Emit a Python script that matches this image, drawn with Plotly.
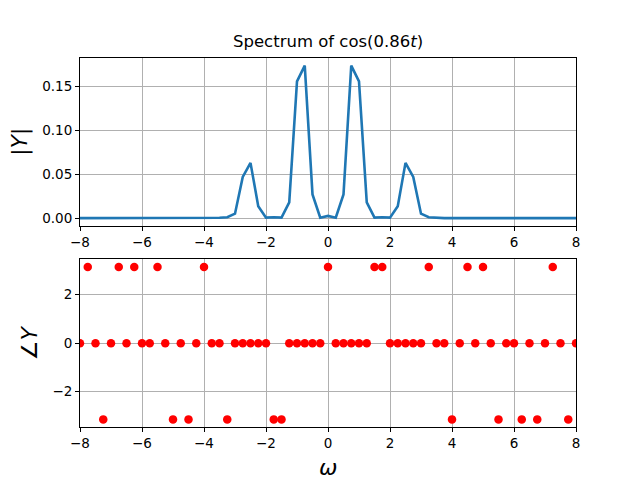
import plotly.graph_objects as go

P = 3.14159

omega = [-8.0, -7.75, -7.5, -7.25, -7.0, -6.75, -6.5, -6.25, -6.0, -5.75, -5.5, -5.25,
         -5.0, -4.75, -4.5, -4.25, -4.0, -3.75, -3.5, -3.25, -3.0, -2.75, -2.5, -2.25,
         -2.0, -1.75, -1.5, -1.25, -1.0, -0.75, -0.5, -0.25, 0.0, 0.25, 0.5, 0.75,
         1.0, 1.25, 1.5, 1.75, 2.0, 2.25, 2.5, 2.75, 3.0, 3.25, 3.5, 3.75,
         4.0, 4.25, 4.5, 4.75, 5.0, 5.25, 5.5, 5.75, 6.0, 6.25, 6.5, 6.75,
         7.0, 7.25, 7.5, 7.75, 8.0]

magnitude = [0, 0, 0, 0, 0, 0, 0, 0, 0, 0, 0, 0,
             0, 0, 0, 0, 0, 0, 0.0003, 0.001, 0.005, 0.047, 0.063, 0.0135,
             0.0005, 0.001, 0.0005, 0.018, 0.156, 0.174, 0.027, 0.0005, 0.0025, 0.0005, 0.027, 0.174,
             0.156, 0.018, 0.0005, 0.001, 0.0005, 0.0135, 0.063, 0.047, 0.005, 0.001, 0.0003, 0,
             0, 0, 0, 0, 0, 0, 0, 0, 0, 0, 0, 0,
             0, 0, 0, 0, 0]

phase = [0, P, 0, -P, 0, P, 0, P, 0, 0, P, 0,
         -P, 0, -P, 0, P, 0, 0, -P, 0, 0, 0, 0,
         0, -P, -P, 0, 0, 0, 0, 0, P, 0, 0, 0,
         0, 0, P, P, 0, 0, 0, 0, 0, P, 0, 0,
         -P, 0, P, 0, P, 0, -P, 0, 0, -P, 0, -P,
         0, P, 0, -P, 0]

x_ticks = [-8, -6, -4, -2, 0, 2, 4, 6, 8]
mag_ticks = [0.0, 0.05, 0.10, 0.15]
phase_ticks = [-2, 0, 2]

title_text = "Spectrum of cos(0.86<i>t</i>)"

FONT = "DejaVu Sans"

fig = go.Figure()
fig.add_trace(go.Scatter(x=omega, y=magnitude, mode="lines",
                         line=dict(color="#1f77b4", width=2.6),
                         xaxis="x", yaxis="y", showlegend=False))
fig.add_trace(go.Scatter(x=omega, y=phase, mode="markers",
                         marker=dict(color="red", size=8.5, line=dict(width=0)),
                         xaxis="x2", yaxis="y2", showlegend=False))

mmax = max(magnitude)
mmin = min(magnitude)
mpad = 0.05 * (mmax - mmin)
ppad = 0.05 * (max(phase) - min(phase))

axis_common = dict(showline=True, mirror=True, linecolor="black", linewidth=1,
                   ticks="outside", ticklen=4, tickwidth=1, tickcolor="black",
                   showgrid=True, gridcolor="#b0b0b0", gridwidth=0.8,
                   zeroline=False, tickfont=dict(family=FONT, size=13.5, color="black"))

fig.update_layout(
    width=640, height=480,
    margin=dict(l=72, r=72, t=50, b=61, pad=0),
    paper_bgcolor="white", plot_bgcolor="white",
    xaxis=dict(domain=[0, 1], anchor="y", range=[-8, 8], tickvals=x_ticks, **axis_common),
    yaxis=dict(domain=[0.5455, 1], anchor="x", range=[mmin - mpad, mmax + mpad],
               tickvals=mag_ticks, tickformat=".2f", **axis_common),
    xaxis2=dict(domain=[0, 1], anchor="y2", range=[-8, 8], tickvals=x_ticks, **axis_common),
    yaxis2=dict(domain=[0, 0.4545], anchor="x2", range=[min(phase) - ppad, max(phase) + ppad],
                tickvals=phase_ticks, **axis_common),
    annotations=[
        dict(text=title_text, xref="x domain", yref="y domain", x=0.5, y=1,
             xanchor="center", yanchor="bottom", yshift=5, showarrow=False,
             font=dict(family=FONT, size=16.5, color="black")),
        dict(text="|<i>Y</i>|", xref="paper", yref="y domain", x=0, y=0.5,
             xanchor="center", yanchor="middle", xshift=-60, textangle=-90, showarrow=False,
             font=dict(family=FONT, size=22, color="black")),
        dict(text="∠<i>Y</i>", xref="paper", yref="y2 domain", x=0, y=0.5,
             xanchor="center", yanchor="middle", xshift=-51, textangle=-90, showarrow=False,
             font=dict(family=FONT, size=22, color="black")),
        dict(text="<i>ω</i>", xref="x2 domain", yref="paper", x=0.5, y=0,
             xanchor="center", yanchor="middle", yshift=-40, showarrow=False,
             font=dict(family=FONT, size=22, color="black")),
    ],
)

fig.write_html("out.html")
